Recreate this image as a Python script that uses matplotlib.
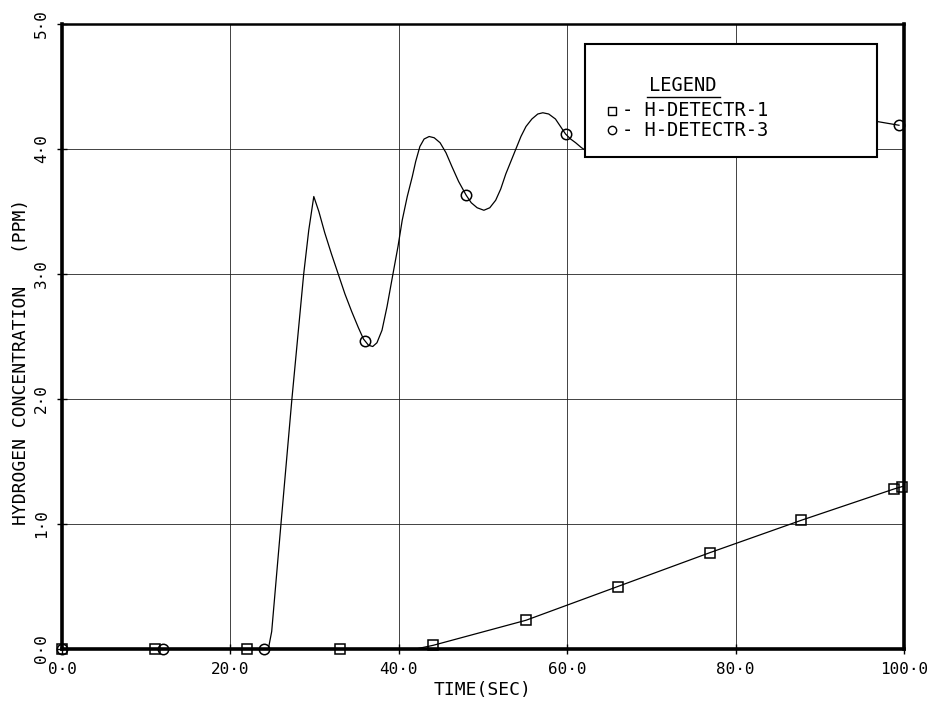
import numpy as np
import matplotlib
matplotlib.use("Agg")
import matplotlib.pyplot as plt
from matplotlib.patches import Rectangle

# H-DETECTR-1 (squares)
det1_t = [0, 11, 12, 22, 33, 42, 44.1, 55.1, 66.0, 76.9, 87.8, 98.8, 99.8]
det1_v = [0, 0, 0, 0, 0, 0, 0.03, 0.23, 0.50, 0.77, 1.03, 1.28, 1.30]
det1_marks = [0, 11, 22, 33, 44.1, 55.1, 66.0, 76.9, 87.8, 98.8, 99.8]

# H-DETECTR-3 (circles), part of it sits under the legend box
det3_t = [0, 12, 24.5, 24.9, 26.0, 27.3, 28.7, 29.3, 29.9, 30.5, 31.2, 32.0,
          32.8, 33.6, 34.4, 35.2, 35.8, 36.4, 36.9, 37.4, 38.0, 38.6, 39.3,
          39.9, 40.4, 41.0, 41.6, 42.0, 42.5, 43.0, 43.6, 44.2, 44.9, 45.6,
          46.3, 47.1, 48.0, 48.6, 49.3, 50.1, 50.8, 51.5, 52.1, 52.7, 53.3,
          53.9, 54.5, 55.1, 55.8, 56.5, 57.1, 57.8, 58.6, 59.3, 59.8, 60.4,
          61.0, 61.7, 62.4, 65.0, 68.0, 72.0, 76.0, 80.0, 85.0, 90.0, 96.8,
          99.4]
det3_v = [0, 0, 0, 0.14, 1.0, 2.0, 3.0, 3.35, 3.62, 3.50, 3.33, 3.16,
          3.0, 2.84, 2.70, 2.57, 2.48, 2.43, 2.42, 2.45, 2.55, 2.74, 3.0,
          3.22, 3.43, 3.62, 3.78, 3.90, 4.02, 4.08, 4.10, 4.09, 4.05, 3.97,
          3.86, 3.74, 3.63, 3.57, 3.53, 3.51, 3.53, 3.59, 3.68, 3.80, 3.90,
          4.0, 4.10, 4.18, 4.24, 4.28, 4.29, 4.28, 4.24, 4.17, 4.12, 4.08,
          4.05, 4.01, 3.98, 4.00, 4.08, 4.25, 4.20, 4.10, 4.15, 4.22, 4.22,
          4.19]
det3_marks = [0, 12, 24, 36, 48, 59.8, 71.7, 83.6, 95.5, 99.4]

xticks = [0, 20, 40, 60, 80, 100]
yticks = [0, 1, 2, 3, 4, 5]


def lab(v):
    return f"{v:.1f}".replace(".", "\u00b7")


plt.rcParams['font.family'] = ['DejaVu Sans Mono', 'DejaVu Sans']

fig = plt.figure(figsize=(9.30, 7.04), dpi=100)
ax = fig.add_axes([0.0667, 0.0781, 0.9054, 0.8878])

ax.set_xlim(0, 100)
ax.set_ylim(0, 5)

ax.grid(True, color='#222222', linewidth=0.6)
ax.set_axisbelow(True)

ax.plot(det1_t, det1_v, color='black', linewidth=0.9, zorder=3)
ax.plot(det1_marks, np.interp(det1_marks, det1_t, det1_v), linestyle='none',
        marker='s', markersize=7, mfc='none', mec='black', mew=1.1, zorder=4,
        clip_on=False)

ax.plot(det3_t, det3_v, color='black', linewidth=0.9, zorder=3)
ax.plot(det3_marks, np.interp(det3_marks, det3_t, det3_v), linestyle='none',
        marker='o', markersize=7.5, mfc='none', mec='black', mew=1.1, zorder=4,
        clip_on=False)

ax.set_xticks(xticks)
ax.set_xticklabels([lab(v) for v in xticks], fontsize=11.5)
ax.set_yticks(yticks)
ax.set_yticklabels([lab(v) for v in yticks], fontsize=11.5, rotation=90,
                   va='center')
ax.tick_params(direction='inout', length=7, width=1.0, pad=6)

for side in ['left', 'bottom', 'right']:
    ax.spines[side].set_linewidth(2.6)
ax.spines['top'].set_linewidth(1.8)

ax.set_xlabel("TIME(SEC)", fontsize=13, labelpad=3)
ax.set_ylabel("HYDROGEN CONCENTRATION   (PPM)", fontsize=13)
ax.yaxis.set_label_coords(-0.038, 0.46)

# legend box
ax.add_patch(Rectangle((0.621, 0.787), 0.347, 0.181, transform=ax.transAxes,
                       facecolor='white', edgecolor='black', linewidth=1.5,
                       zorder=6))
ax.text(0.7375, 0.901, "LEGEND", transform=ax.transAxes, fontsize=13.5,
        ha='center', va='center', zorder=7)
ax.plot([0.695, 0.782], [0.884, 0.884], transform=ax.transAxes,
        color='black', linewidth=1.0, zorder=7)
ax.plot([0.653], [0.861], transform=ax.transAxes, marker='s', markersize=6,
        mfc='none', mec='black', mew=1.0, zorder=7)
ax.plot([0.653], [0.830], transform=ax.transAxes, marker='o', markersize=6,
        mfc='none', mec='black', mew=1.0, zorder=7)
ax.text(0.665, 0.861, "- H-DETECTR-1", transform=ax.transAxes, fontsize=13.5,
        ha='left', va='center', zorder=7)
ax.text(0.665, 0.830, "- H-DETECTR-3", transform=ax.transAxes, fontsize=13.5,
        ha='left', va='center', zorder=7)

fig.savefig("out.png", dpi=100)
